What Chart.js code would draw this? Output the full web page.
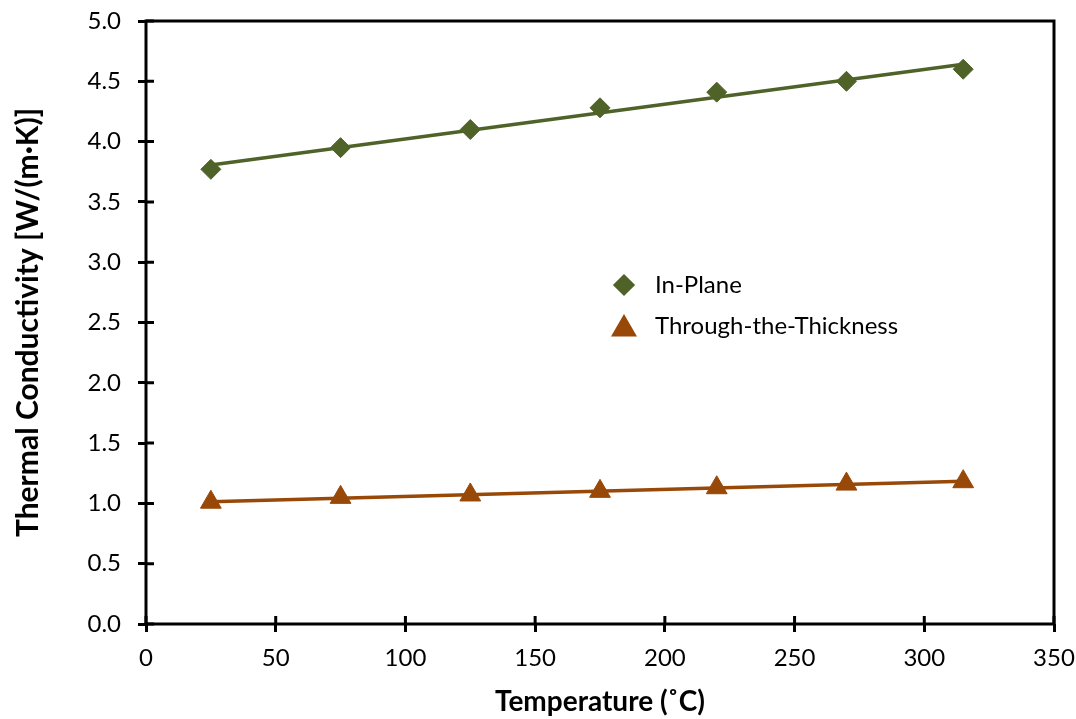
<!DOCTYPE html>
<html>
<head>
<meta charset="utf-8">
<script src="https://cdn.jsdelivr.net/npm/chart.js"></script>
<style>
  body { margin: 0; background: #fff; }
  #wrap { width: 1076px; height: 719px; position: relative; }
</style>
</head>
<body>
<div id="wrap"><canvas id="tcChart"></canvas></div>
<script>
// data
var temps = [25, 75, 125, 175, 220, 270, 315];
var inPlane = [3.77, 3.95, 4.10, 4.28, 4.41, 4.50, 4.60];
var throughThickness = [1.01, 1.05, 1.07, 1.10, 1.13, 1.16, 1.18];
var xTickValues = [0, 50, 100, 150, 200, 250, 300, 350];
var yTickValues = [0, 0.5, 1.0, 1.5, 2.0, 2.5, 3.0, 3.5, 4.0, 4.5, 5.0];
var seriesNames = ['In-Plane', 'Through-the-Thickness'];

var green = '#4F6228';
var brown = '#984807';

Chart.defaults.font.family = 'Lato';
Chart.defaults.font.size = 24;
Chart.defaults.color = '#000';

var toPoints = function(xs, ys) {
  return xs.map(function(x, i) { return {x: x, y: ys[i]}; });
};

// linear trendline (least squares), like the spreadsheet one
var trend = function(xs, ys) {
  var n = xs.length, sx = 0, sy = 0, sxx = 0, sxy = 0;
  for (var i = 0; i < n; i++) {
    sx += xs[i]; sy += ys[i]; sxx += xs[i] * xs[i]; sxy += xs[i] * ys[i];
  }
  var b = (n * sxy - sx * sy) / (n * sxx - sx * sx);
  var a = (sy - b * sx) / n;
  return [{x: xs[0], y: a + b * xs[0]}, {x: xs[n - 1], y: a + b * xs[n - 1]}];
};

var boxAndTicks = {
  id: 'boxAndTicks',
  afterDraw: function(chart) {
    var ctx = chart.ctx, area = chart.chartArea;
    var xs = chart.scales.x, ys = chart.scales.y;
    ctx.save();
    ctx.strokeStyle = '#000';
    ctx.lineWidth = 3;
    ctx.strokeRect(area.left, area.top, area.right - area.left, area.bottom - area.top);
    ctx.beginPath();
    xs.ticks.forEach(function(t) {
      var px = xs.getPixelForValue(t.value);
      ctx.moveTo(px, area.bottom);
      ctx.lineTo(px, area.bottom - 8);
    });
    ys.ticks.forEach(function(t) {
      var py = ys.getPixelForValue(t.value);
      ctx.moveTo(area.left, py);
      ctx.lineTo(area.left + 8, py);
    });
    ctx.stroke();

    // legend inside the plot
    var lx = area.left + 478, ly = area.top + 264;
    var styles = ['rectRot', 'triangle'];
    var colors = [green, brown];
    var radii = [9, 12];
    for (var i = 0; i < 2; i++) {
      var y = ly + i * 41;
      ctx.fillStyle = colors[i];
      ctx.strokeStyle = colors[i];
      Chart.helpers.drawPoint(ctx, {pointStyle: styles[i], radius: radii[i], rotation: 0, borderWidth: 1}, lx, y + (i === 1 ? 3 : 0));
      ctx.fillStyle = '#000';
      ctx.font = '24px Lato';
      ctx.textBaseline = 'middle';
      ctx.fillText(seriesNames[i], lx + 31, y);
    }
    ctx.restore();
  }
};

var axisTicks = function(values) {
  return function(scale) {
    scale.ticks = values.map(function(v) { return {value: v}; });
  };
};

var tcChart = new Chart(document.getElementById('tcChart').getContext('2d'), {
  type: 'scatter',
  data: {
    datasets: [{
      label: seriesNames[0] + ' trend',
      data: trend(temps, inPlane),
      showLine: true,
      borderColor: green,
      borderWidth: 3.5,
      pointRadius: 0
    }, {
      label: seriesNames[1] + ' trend',
      data: trend(temps, throughThickness),
      showLine: true,
      borderColor: brown,
      borderWidth: 3.5,
      pointRadius: 0
    }, {
      label: seriesNames[0],
      data: toPoints(temps, inPlane),
      pointStyle: 'rectRot',
      pointRadius: 10,
      backgroundColor: green,
      borderColor: green,
      borderWidth: 1
    }, {
      label: seriesNames[1],
      data: toPoints(temps, throughThickness),
      pointStyle: 'triangle',
      pointRadius: 12,
      backgroundColor: brown,
      borderColor: brown,
      borderWidth: 1
    }]
  },
  options: {
    responsive: true,
    maintainAspectRatio: false,
    animation: false,
    layout: { padding: { top: 21, right: 22, left: 0, bottom: 0 } },
    plugins: {
      legend: { display: false },
      tooltip: { enabled: false }
    },
    scales: {
      x: {
        type: 'linear',
        min: 0,
        max: 350,
        afterBuildTicks: axisTicks(xTickValues),
        afterFit: function(scale) {
          scale.height = 95;
          scale.paddingLeft = 0;
          scale.paddingRight = 0;
        },
        border: { display: false },
        grid: { drawOnChartArea: false, color: '#000', lineWidth: 3, tickLength: 8 },
        ticks: { padding: 12 },
        title: {
          display: true,
          text: 'Temperature (\u02DAC)',
          font: { size: 28, weight: 'bold' },
          padding: { top: 1, bottom: 0 }
        }
      },
      y: {
        type: 'linear',
        min: 0,
        max: 5,
        afterBuildTicks: axisTicks(yTickValues),
        afterFit: function(scale) {
          scale.width = 146;
          scale.paddingTop = 0;
          scale.paddingBottom = 0;
        },
        border: { display: false },
        grid: { drawOnChartArea: false, color: '#000', lineWidth: 3, tickLength: 8 },
        ticks: {
          padding: 17,
          callback: function(v) { return Number(v).toFixed(1); }
        },
        title: {
          display: true,
          text: 'Thermal Conductivity [W/(m\u00B7K)]',
          font: { size: 30, weight: 'bold' },
          padding: { top: 10, bottom: 0 }
        }
      }
    }
  },
  plugins: [boxAndTicks]
});
</script>
</body>
</html>
